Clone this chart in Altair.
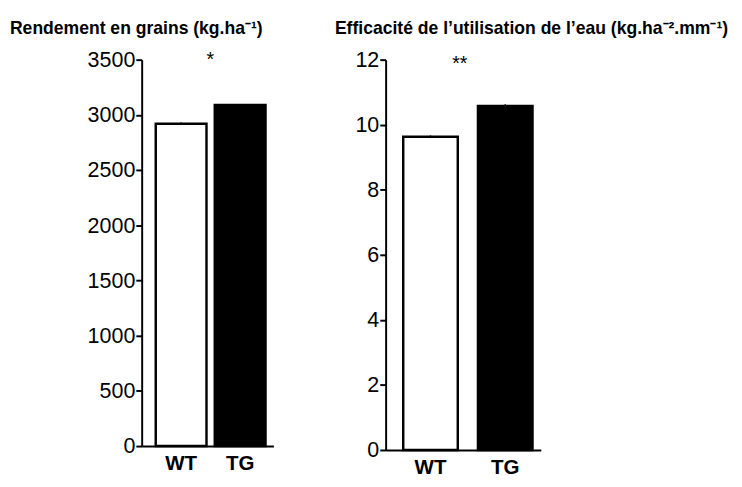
import altair as alt
import pandas as pd

genotypes = ["WT", "TG"]
bar_fills = ["white", "black"]

yield_means = [2920, 3090]
yield_err = [12, 8]
yield_ticks = [0, 500, 1000, 1500, 2000, 2500, 3000, 3500]
yield_star = ["*"]
yield_star_y = [3500]

wue_means = [9.63, 10.58]
wue_err = [0.04, 0.05]
wue_ticks = [0, 2, 4, 6, 8, 10, 12]
wue_star = ["**"]
wue_star_y = [11.85]

FONT = "Liberation Sans"


def panel(means, errs, ticks, star, star_y, title, width, height, p_inner, p_outer, align,
          title_dx, star_dx):
    df = pd.DataFrame({
        "g": genotypes,
        "v": means,
        "lo": [m - e for m, e in zip(means, errs)],
        "hi": [m + e for m, e in zip(means, errs)],
        "fill": bar_fills,
    })
    sdf = pd.DataFrame({"s": star, "sy": star_y})
    xs = alt.Scale(domain=genotypes, paddingInner=p_inner, paddingOuter=p_outer, align=align)
    ys = alt.Scale(domain=[ticks[0], ticks[-1]], nice=False)
    x = alt.X("g:N", sort=genotypes, scale=xs,
              axis=alt.Axis(title=None, labelAngle=0, ticks=False, labelFontWeight="bold",
                            labelFontSize=21, labelFont=FONT, labelColor="black", labelPadding=7,
                            domainWidth=2, domainColor="black"))
    y = alt.Y("v:Q", scale=ys,
              axis=alt.Axis(title=None, values=ticks, format="d", grid=False, tickSize=6, tickWidth=2,
                            tickColor="black", domainWidth=2, domainColor="black",
                            labelFontSize=22, labelFont=FONT, labelColor="black", labelPadding=1))
    bars = alt.Chart(df).mark_bar(stroke="black", strokeWidth=2.5).encode(
        x=x, y=y, fill=alt.Fill("fill:N", scale=None))
    err = alt.Chart(df).mark_rule(color="black", strokeWidth=1.5).encode(
        x=alt.X("g:N", sort=genotypes, scale=xs), y=alt.Y("lo:Q", scale=ys), y2="hi:Q")
    stars = alt.Chart(sdf).mark_text(fontSize=20, font=FONT, color="black", baseline="middle",
                                     dx=star_dx).encode(
        x=alt.X(datum="WT", bandPosition=1, scale=xs), y=alt.Y("sy:Q", scale=ys), text="s:N")
    return alt.layer(bars, err, stars).properties(
        width=width, height=height,
        title=alt.TitleParams(title, anchor="start", frame="group", dx=title_dx, fontSize=18,
                              fontWeight="bold", font=FONT, color="black", offset=11))


left = panel(yield_means, yield_err, yield_ticks, yield_star, yield_star_y,
             "Rendement en grains (kg.ha\u207b\u00b9)", 135, 396, 0.14, 0.186, 0.64, -135, 4)
right = panel(wue_means, wue_err, wue_ticks, wue_star, wue_star_y,
              "Efficacit\u00e9 de l\u2019utilisation de l\u2019eau (kg.ha\u207b\u00b2.mm\u207b\u00b9)",
              159, 400, 0.27, 0.173, 0.68, -52, 2)

chart = alt.hconcat(left, right, spacing=63).properties(
    padding={"left": 2, "top": 7, "right": 5, "bottom": 5},
    background="white",
).configure_view(stroke=None)

chart.save("out.html", embed_options={"renderer": "svg", "actions": False})
